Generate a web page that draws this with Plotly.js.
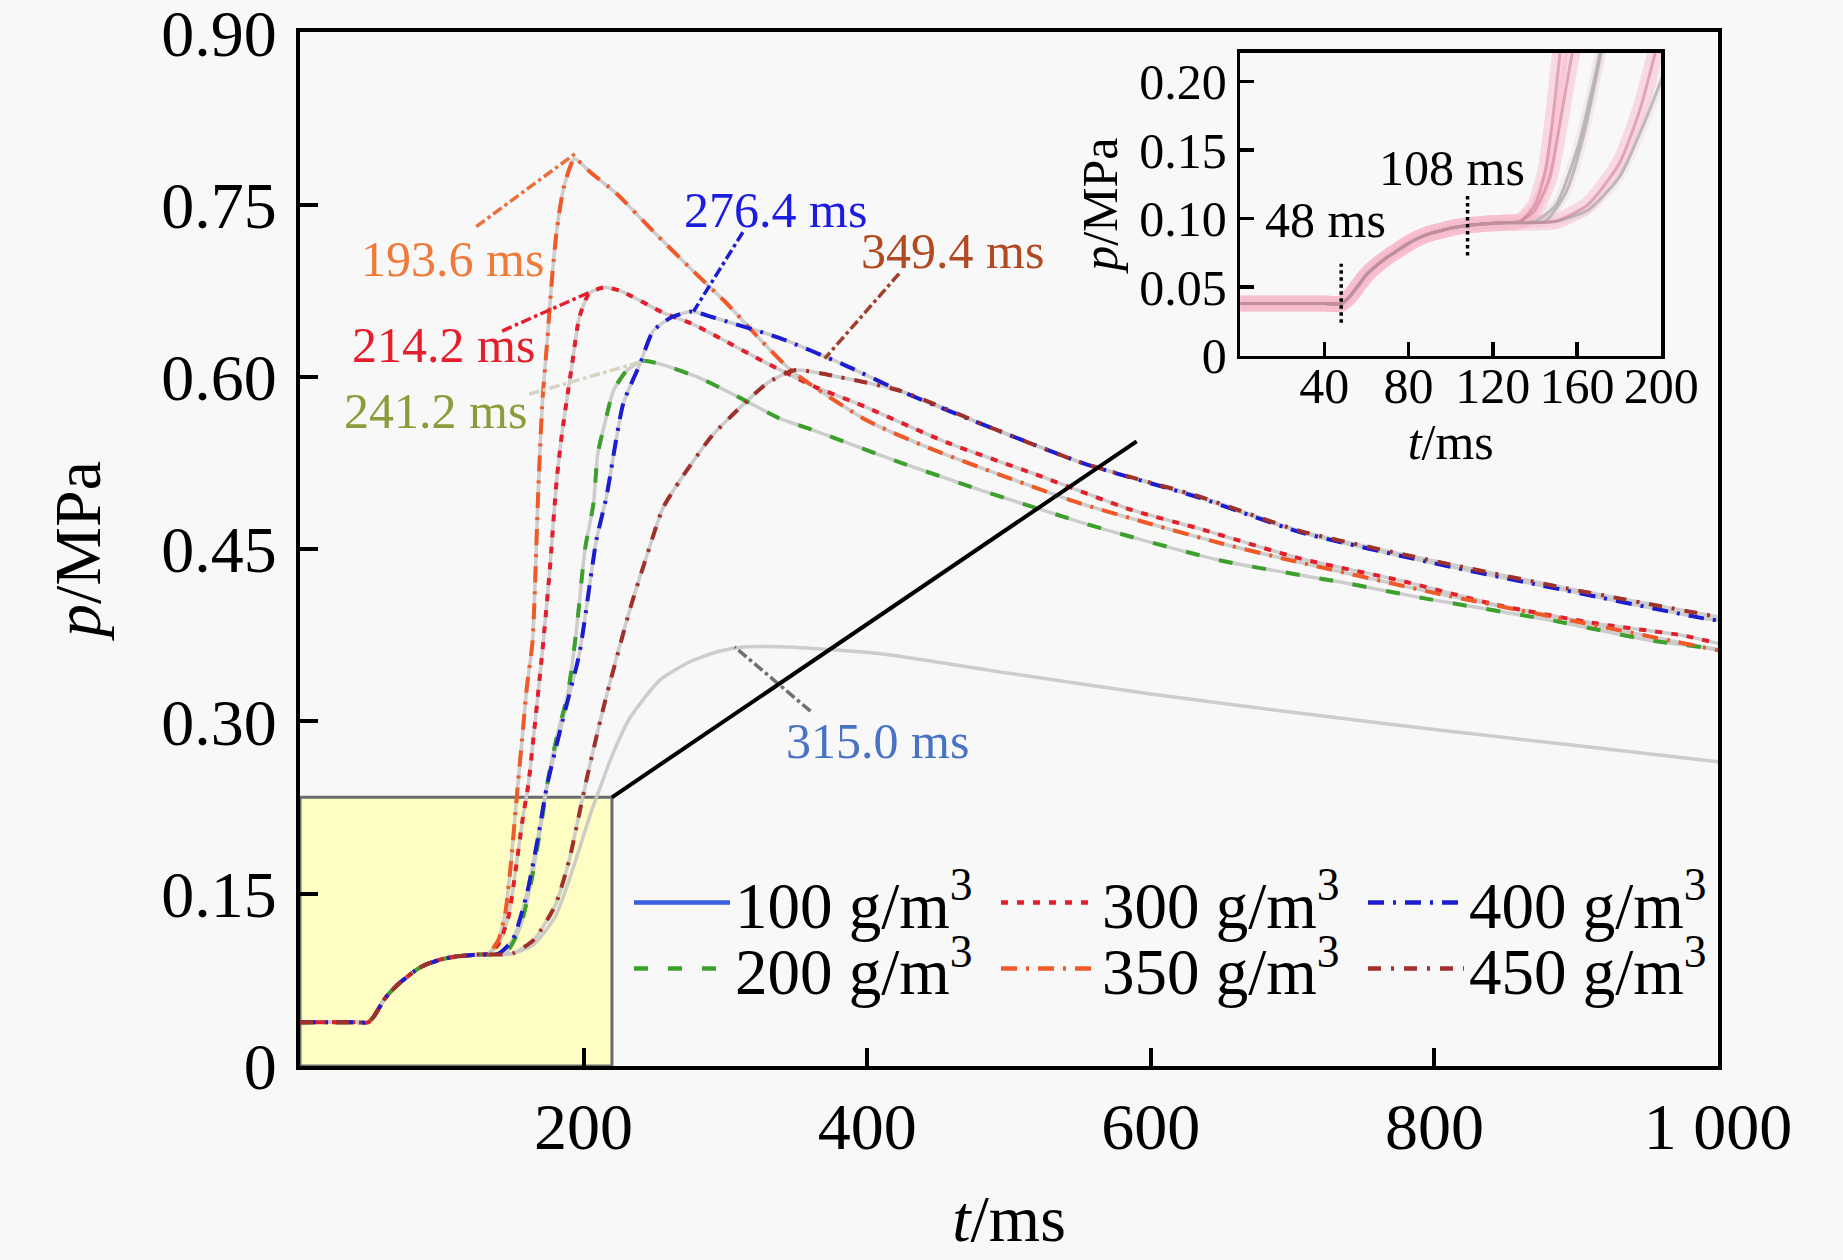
<!DOCTYPE html>
<html>
<head>
<meta charset="utf-8">
<script src="https://cdn.plot.ly/plotly-3.0.1.min.js"></script>
<style>
  html, body { margin: 0; padding: 0; background: #f8f8f8; }
  #chart { width: 1843px; height: 1260px; }
</style>
</head>
<body>
<div id="chart"></div>
<script>
// pressure curves, t in ms, p in MPa
var t100 = [0, 10, 20, 30, 40, 48, 52, 56, 60, 65, 70, 75, 80, 85, 90, 95, 100, 108, 115, 125, 135, 150, 165, 180, 192, 205, 213.6, 220, 232.6, 253.7, 275, 295, 315, 340, 409, 500, 600, 700, 800, 900, 1000];
var p100 = [0.038, 0.038, 0.038, 0.038, 0.038, 0.038, 0.043, 0.051, 0.059, 0.066, 0.072, 0.077, 0.082, 0.086, 0.089, 0.091, 0.093, 0.095, 0.096, 0.097, 0.097, 0.098, 0.106, 0.13, 0.17, 0.22, 0.249, 0.27, 0.303, 0.336, 0.352, 0.361, 0.365, 0.365, 0.359, 0.342, 0.324, 0.308, 0.293, 0.279, 0.265];

var t200 = [0, 10, 20, 30, 40, 48, 52, 56, 60, 65, 70, 75, 80, 85, 90, 95, 100, 108, 115, 125, 135, 145, 155, 163, 170, 175, 181, 189, 195, 201, 207, 210, 216, 221, 230, 241.2, 255, 282, 310, 338, 359, 420, 481, 552, 571, 650, 740, 794, 883, 951, 1000];
var p200 = [0.038, 0.038, 0.038, 0.038, 0.038, 0.038, 0.043, 0.051, 0.059, 0.066, 0.072, 0.077, 0.082, 0.086, 0.089, 0.091, 0.093, 0.095, 0.096, 0.097, 0.097, 0.098, 0.12, 0.16, 0.21, 0.25, 0.286, 0.325, 0.38, 0.45, 0.49, 0.533, 0.565, 0.588, 0.605, 0.614, 0.611, 0.599, 0.582, 0.564, 0.555, 0.527, 0.501, 0.473, 0.466, 0.44, 0.42, 0.407, 0.388, 0.371, 0.363];

var t300 = [0, 10, 20, 30, 40, 48, 52, 56, 60, 65, 70, 75, 80, 85, 90, 95, 100, 108, 115, 125, 133, 140, 147, 152, 157, 161, 165, 171, 176, 181, 185, 192, 197, 204, 214.2, 226, 256, 277, 296, 326, 364, 393, 456, 517, 587, 634, 705, 775, 846, 916, 975, 1000];
var p300 = [0.038, 0.038, 0.038, 0.038, 0.038, 0.038, 0.043, 0.051, 0.059, 0.066, 0.072, 0.077, 0.082, 0.086, 0.089, 0.091, 0.093, 0.095, 0.096, 0.097, 0.098, 0.106, 0.13, 0.17, 0.215, 0.245, 0.29, 0.362, 0.43, 0.51, 0.553, 0.612, 0.652, 0.673, 0.678, 0.675, 0.656, 0.646, 0.634, 0.614, 0.591, 0.577, 0.543, 0.516, 0.484, 0.468, 0.442, 0.423, 0.401, 0.385, 0.375, 0.368];

var t350 = [0, 10, 20, 30, 40, 48, 52, 56, 60, 65, 70, 75, 80, 85, 90, 95, 100, 108, 115, 125, 133, 140, 145, 149, 153, 157, 160, 164, 168, 171, 174, 178, 181, 186, 193.6, 205, 223, 249, 275, 301, 325, 347, 400, 450, 500, 550, 600, 650, 700, 800, 900, 1000];
var p350 = [0.038, 0.038, 0.038, 0.038, 0.038, 0.038, 0.043, 0.051, 0.059, 0.066, 0.072, 0.077, 0.082, 0.086, 0.089, 0.091, 0.093, 0.095, 0.096, 0.097, 0.098, 0.11, 0.135, 0.18, 0.236, 0.29, 0.33, 0.37, 0.5, 0.58, 0.626, 0.69, 0.727, 0.765, 0.79, 0.778, 0.76, 0.727, 0.695, 0.664, 0.632, 0.605, 0.562, 0.535, 0.512, 0.49, 0.472, 0.455, 0.44, 0.412, 0.387, 0.362];

var t400 = [0, 10, 20, 30, 40, 48, 52, 56, 60, 65, 70, 75, 80, 85, 90, 95, 100, 108, 115, 125, 140, 150, 160, 168, 174, 185, 197, 209, 216, 228, 240, 249, 262, 276.4, 291, 338, 383, 423, 493, 552, 634, 705, 799, 893, 989, 1000];
var p400 = [0.038, 0.038, 0.038, 0.038, 0.038, 0.038, 0.043, 0.051, 0.059, 0.066, 0.072, 0.077, 0.082, 0.086, 0.089, 0.091, 0.093, 0.095, 0.096, 0.097, 0.098, 0.11, 0.15, 0.2, 0.243, 0.3, 0.359, 0.458, 0.495, 0.577, 0.612, 0.64, 0.652, 0.657, 0.652, 0.634, 0.611, 0.588, 0.553, 0.525, 0.495, 0.465, 0.438, 0.414, 0.39, 0.388];

var t450 = [0, 10, 20, 30, 40, 48, 52, 56, 60, 65, 70, 75, 80, 85, 90, 95, 100, 108, 115, 125, 135, 150, 165, 180, 190, 197, 202, 214, 233, 245, 256, 268, 290, 310, 330, 349.4, 380, 423, 493, 552, 634, 705, 799, 893, 1000];
var p450 = [0.038, 0.038, 0.038, 0.038, 0.038, 0.038, 0.043, 0.051, 0.059, 0.066, 0.072, 0.077, 0.082, 0.086, 0.089, 0.091, 0.093, 0.095, 0.096, 0.097, 0.097, 0.098, 0.11, 0.14, 0.18, 0.22, 0.249, 0.312, 0.399, 0.446, 0.486, 0.51, 0.548, 0.573, 0.595, 0.606, 0.6, 0.588, 0.553, 0.525, 0.496, 0.466, 0.44, 0.416, 0.391];

var seriesNames = ['100 g/m<sup>3</sup>', '200 g/m<sup>3</sup>', '300 g/m<sup>3</sup>', '350 g/m<sup>3</sup>', '400 g/m<sup>3</sup>', '450 g/m<sup>3</sup>'];

// peak labels
var peakText = ['315.0 ms', '241.2 ms', '214.2 ms', '193.6 ms', '276.4 ms', '349.4 ms'];

var xTicks = [200, 400, 600, 800, 1000];
var xTickText = ['200', '400', '600', '800', '1 000'];
var yTicks = [0, 0.15, 0.30, 0.45, 0.60, 0.75, 0.90];
var yTickText = ['0', '0.15', '0.30', '0.45', '0.60', '0.75', '0.90'];
var xTicksInset = [40, 80, 120, 160, 200];
var yTicksInset = [0, 0.05, 0.10, 0.15, 0.20];
var yTickTextInset = ['0', '0.05', '0.10', '0.15', '0.20'];

var FONT = '"Liberation Serif", "Times New Roman", serif';
var BG = '#f8f8f8';

var series = [
    {t: t100, p: p100, color: '#3a5ee0', dash: 'solid', overlay: false, legend: 'legend', pink: false},
    {t: t200, p: p200, color: '#3ca02c', dash: '14px,20px', overlay: true, legend: 'legend2', pink: false},
    {t: t300, p: p300, color: '#e41e2a', dash: '7px,9px', overlay: true, legend: 'legend', pink: true},
    {t: t350, p: p350, color: '#f05a28', dash: '16px,9px,3px,9px', overlay: true, legend: 'legend2', pink: true},
    {t: t400, p: p400, color: '#1c1cd0', dash: '16px,9px,3px,9px', overlay: true, legend: 'legend', pink: false},
    {t: t450, p: p450, color: '#a0302a', dash: '13px,10px,3px,10px', overlay: true, legend: 'legend2', pink: true}
];

var data = [];

// main plot: faint grey line under each curve, coloured dashes on top
series.forEach(function(s) {
    data.push({
        x: s.t, y: s.p, type: 'scatter', mode: 'lines', showlegend: false, hoverinfo: 'skip',
        line: {color: 'rgba(200,200,200,0.9)', width: 3.5, shape: 'spline', smoothing: 0.6}
    });
});
series.forEach(function(s) {
    if (!s.overlay) return;
    data.push({
        x: s.t, y: s.p, type: 'scatter', mode: 'lines', showlegend: false, hoverinfo: 'skip',
        line: {color: s.color, width: 4, dash: s.dash, shape: 'spline', smoothing: 0.6}
    });
});

// inset: same curves, zoomed on the first 200 ms
series.forEach(function(s) {
    data.push({
        x: s.t, y: s.p, xaxis: 'x2', yaxis: 'y2', type: 'scatter', mode: 'lines', showlegend: false, hoverinfo: 'skip',
        line: {color: s.pink ? 'rgba(248,180,200,0.45)' : 'rgba(235,205,215,0.3)', width: s.pink ? 16 : 10, shape: 'spline', smoothing: 0.6}
    });
});
series.forEach(function(s) {
    data.push({
        x: s.t, y: s.p, xaxis: 'x2', yaxis: 'y2', type: 'scatter', mode: 'lines', showlegend: false, hoverinfo: 'skip',
        line: {color: s.pink ? 'rgba(205,120,145,0.55)' : 'rgba(175,175,175,0.8)', width: 3, shape: 'spline', smoothing: 0.6}
    });
});

// legend entries (two rows of three)
series.forEach(function(s, i) {
    data.push({
        x: [null], y: [null], type: 'scatter', mode: 'lines', name: seriesNames[i],
        legend: s.legend, hoverinfo: 'skip',
        line: {color: s.color, width: 4.5, dash: s.dash}
    });
});

var annotations = [];
var shapes = [];

// peak labels with their leader lines
var labelPos = [
    {x: 407.6, y: 0.283, lx0: 360, ly0: 0.309, lx1: 306.5, ly1: 0.365, tc: '#4a72c4', lc: '#707070'},
    {x: 95.3, y: 0.570, lx0: 161.6, ly0: 0.585, lx1: 242.7, ly1: 0.614, tc: '#8c9c3c', lc: '#d4d4c0'},
    {x: 101, y: 0.628, lx0: 142.5, ly0: 0.640, lx1: 204.6, ly1: 0.674, tc: '#e41e2a', lc: '#e41e2a'},
    {x: 107.7, y: 0.7026, lx0: 124.3, ly0: 0.731, lx1: 194.7, ly1: 0.795, tc: '#f07a3a', lc: '#e8703a'},
    {x: 335.5, y: 0.7456, lx0: 312.3, ly0: 0.726, lx1: 277.5, ly1: 0.657, tc: '#1c1ce0', lc: '#1c1cd0'},
    {x: 459.8, y: 0.710, lx0: 422.5, ly0: 0.690, lx1: 370, ly1: 0.616, tc: '#b04a22', lc: '#a0402a'}
];
labelPos.forEach(function(l, i) {
    annotations.push({
        x: l.x, y: l.y, xref: 'x', yref: 'y', text: peakText[i], showarrow: false,
        font: {family: FONT, size: 50, color: l.tc}
    });
    shapes.push({
        type: 'line', xref: 'x', yref: 'y', x0: l.lx0, y0: l.ly0, x1: l.lx1, y1: l.ly1,
        line: {color: l.lc, width: 3.5, dash: 'dashdot'}
    });
});

// zoom box and connector
shapes.push({
    type: 'rect', xref: 'x', yref: 'y', x0: 0, x1: 220, y0: 0, y1: 0.234, layer: 'below',
    fillcolor: '#fdfdc4', line: {color: '#6a6a6a', width: 3}
});
shapes.push({
    type: 'line', xref: 'x', yref: 'y', x0: 220, y0: 0.234, x1: 590, y1: 0.544,
    line: {color: '#000000', width: 4}
});

// inset markers at 48 ms and 108 ms
shapes.push({
    type: 'line', xref: 'x2', yref: 'y2', x0: 48, x1: 48, y0: 0.024, y1: 0.067,
    line: {color: '#000000', width: 3.5, dash: 'dot'}
});
shapes.push({
    type: 'line', xref: 'x2', yref: 'y2', x0: 108, x1: 108, y0: 0.073, y1: 0.118,
    line: {color: '#000000', width: 3.5, dash: 'dot'}
});
annotations.push({
    x: 40.6, y: 0.0986, xref: 'x2', yref: 'y2', text: '48 ms', showarrow: false,
    font: {family: FONT, size: 50, color: '#000000'}
});
annotations.push({
    x: 100.4, y: 0.137, xref: 'x2', yref: 'y2', text: '108 ms', showarrow: false,
    font: {family: FONT, size: 50, color: '#000000'}
});

var legendBase = {
    orientation: 'h', xanchor: 'left', yanchor: 'middle', x: 0.232,
    bgcolor: 'rgba(0,0,0,0)', borderwidth: 0,
    font: {family: FONT, size: 65, color: '#000000'},
    itemwidth: 96, entrywidth: 256, entrywidthmode: 'pixels',
    traceorder: 'normal', itemclick: false, itemdoubleclick: false
};
var legend1 = Object.assign({}, legendBase, {y: 0.158});
var legend2 = Object.assign({}, legendBase, {y: 0.094});

var layout = {
    width: 1843, height: 1260,
    margin: {l: 300, r: 125, t: 32, b: 194},
    paper_bgcolor: BG, plot_bgcolor: BG,
    font: {family: FONT, color: '#000000'},
    showlegend: true,
    legend: legend1,
    legend2: legend2,
    xaxis: {
        range: [0, 1000], tickvals: xTicks, ticktext: xTickText,
        ticks: 'inside', ticklen: 18, tickwidth: 4, tickcolor: '#000000',
        showline: true, linewidth: 4, linecolor: '#000000', mirror: true,
        showgrid: false, zeroline: false, ticklabeloverflow: 'allow',
        tickfont: {family: FONT, size: 66, color: '#000000'},
        title: {text: '<i>t</i>/ms', font: {family: FONT, size: 66, color: '#000000'}, standoff: 34}
    },
    yaxis: {
        range: [0, 0.9004], tickvals: yTicks, ticktext: yTickText,
        ticks: 'inside', ticklen: 18, tickwidth: 4, tickcolor: '#000000',
        showline: true, linewidth: 4, linecolor: '#000000', mirror: true,
        showgrid: false, zeroline: false, ticklabelstandoff: 6, ticklabeloverflow: 'allow',
        tickfont: {family: FONT, size: 66, color: '#000000'},
        title: {text: '<i>p</i>/MPa', font: {family: FONT, size: 66, color: '#000000'}, standoff: 40}
    },
    xaxis2: {
        domain: [0.663, 0.960], anchor: 'y2',
        range: [0, 200], tickvals: xTicksInset,
        ticks: 'inside', ticklen: 14, tickwidth: 3.5, tickcolor: '#000000',
        showline: true, linewidth: 3.5, linecolor: '#000000', mirror: true,
        showgrid: false, zeroline: false, ticklabelstandoff: -16,
        tickfont: {family: FONT, size: 50, color: '#000000'},
        title: {text: '<i>t</i>/ms', font: {family: FONT, size: 50, color: '#000000'}, standoff: 4}
    },
    yaxis2: {
        domain: [0.687, 0.980], anchor: 'x2',
        range: [0, 0.221], tickvals: yTicksInset, ticktext: yTickTextInset,
        ticks: 'inside', ticklen: 14, tickwidth: 3.5, tickcolor: '#000000',
        showline: true, linewidth: 3.5, linecolor: '#000000', mirror: true,
        showgrid: false, zeroline: false,
        tickfont: {family: FONT, size: 50, color: '#000000'},
        title: {text: '<i>p</i>/MPa', font: {family: FONT, size: 50, color: '#000000'}, standoff: 6}
    },
    shapes: shapes,
    annotations: annotations
};

Plotly.newPlot('chart', data, layout, {displayModeBar: false, staticPlot: true});
</script>
</body>
</html>
